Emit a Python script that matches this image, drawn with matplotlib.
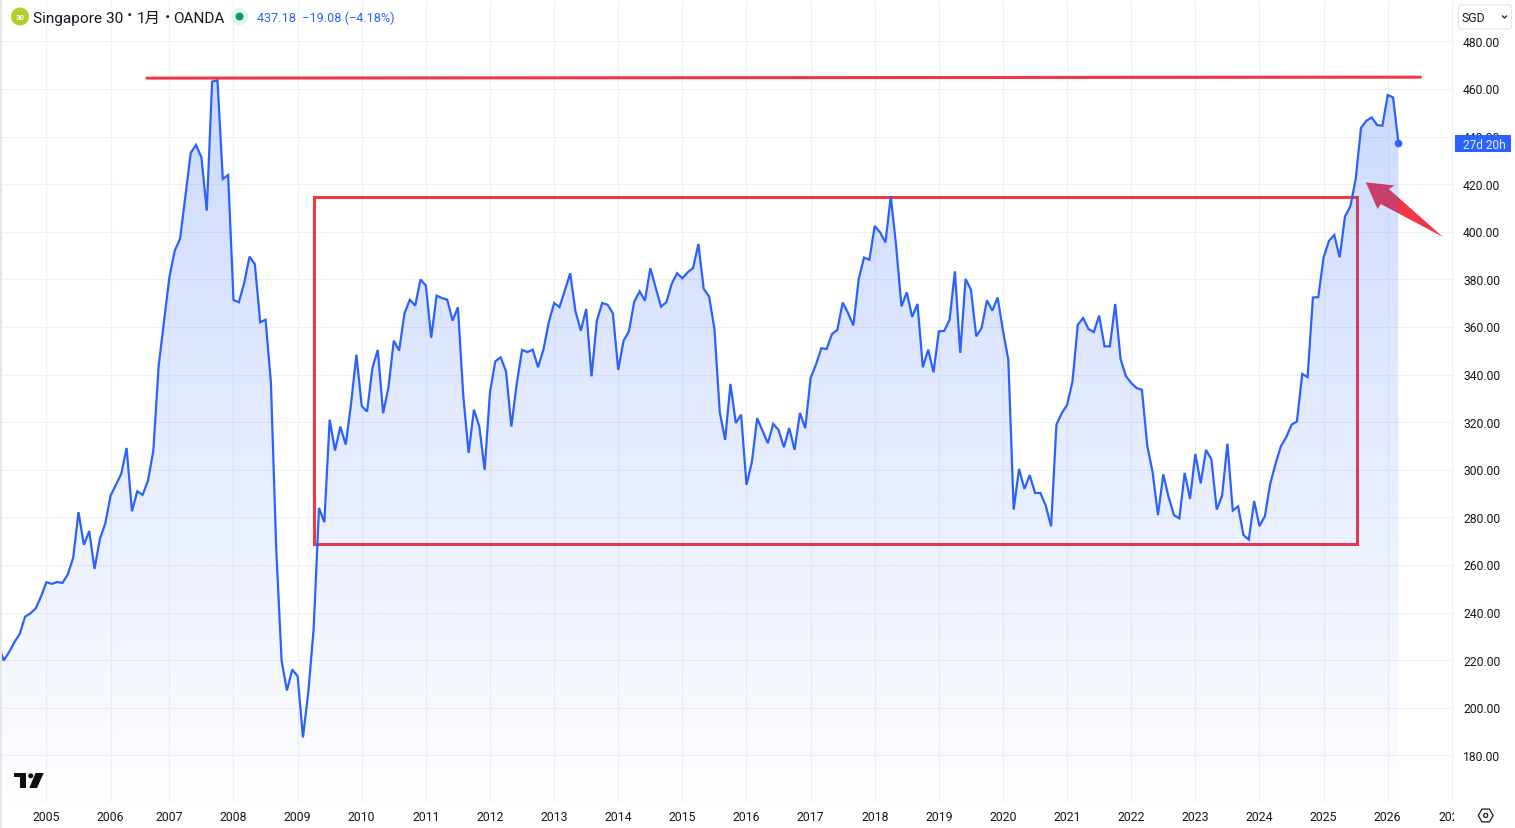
import numpy as np
import matplotlib
matplotlib.use("Agg")
import matplotlib.pyplot as plt
from matplotlib.patches import Circle, FancyBboxPatch, Polygon, Rectangle, RegularPolygon
from matplotlib.transforms import Bbox, IdentityTransform, ScaledTranslation, TransformedBbox

# Monthly closes, Apr 2004 onwards
closes_2004 = [226.6, 219.9, 223.4, 227.6, 231.1, 238.3, 239.7, 241.8, 246.9]
closes_2005 = [252.8, 252.1, 252.9, 252.5, 256.1, 263.1, 282.2, 268.5, 274.3, 258.4, 271.0, 277.4]
closes_2006 = [289.2, 293.7, 298.4, 309.2, 282.6, 291.0, 289.5, 295.5, 308.1, 343.8, 362.4]
closes_2007 = [380.9, 392.1, 397.0, 415.0, 433.2, 436.5, 431.3, 408.9, 463.1, 463.7, 422.2, 423.9]
closes_2008 = [371.4, 370.4, 378.5, 389.6, 386.4, 362.0, 363.1, 336.8, 266.8, 219.9, 207.3, 216.1]
closes_2009 = [213.3, 187.6, 206.6, 233.2, 284.0, 278.0, 321.1, 308.1, 318.2, 310.6, 327.7, 348.4]
closes_2010 = [326.8, 324.5, 342.8, 350.4, 323.8, 334.7, 354.3, 350.1, 365.8, 371.5, 369.0, 380.0]
closes_2011 = [377.4, 355.5, 373.2, 372.2, 371.5, 362.7, 368.3, 331.2, 307.1, 325.3, 318.2, 300.0]
closes_2012 = [332.6, 345.6, 347.3, 341.4, 318.2, 336.1, 350.4, 349.5, 350.5, 343.1, 350.5, 362.0]
closes_2013 = [370.1, 368.4, 375.3, 382.6, 366.6, 358.5, 367.6, 339.3, 362.7, 370.1, 369.4, 365.8]
closes_2014 = [342.0, 354.3, 358.2, 370.7, 375.0, 371.1, 384.7, 376.7, 368.6, 370.4, 378.1, 382.6]
closes_2015 = [380.5, 383.0, 384.8, 394.9, 376.0, 372.9, 359.2, 324.2, 312.6, 336.1, 319.7, 323.2]
closes_2016 = [293.7, 303.2, 321.7, 316.5, 311.2, 319.3, 316.8, 309.5, 317.6, 308.4, 323.9, 317.5]
closes_2017 = [338.6, 344.2, 351.1, 350.8, 357.1, 358.8, 370.3, 365.9, 360.7, 380.2, 389.2, 388.3]
closes_2018 = [402.5, 399.8, 395.6, 414.9, 394.2, 368.7, 374.6, 364.3, 369.7, 343.1, 350.5, 341.0]
closes_2019 = [358.2, 358.4, 363.0, 383.4, 349.1, 380.2, 375.7, 356.1, 359.6, 371.2, 366.9, 372.4]
closes_2020 = [358.5, 346.2, 283.3, 300.4, 292.0, 297.8, 290.3, 290.3, 285.0, 276.3, 319.0, 323.8]
closes_2021 = [327.3, 337.1, 361.0, 363.8, 359.2, 357.9, 364.8, 351.9, 351.9, 369.7, 346.6, 339.4]
closes_2022 = [336.5, 334.4, 333.6, 310.2, 299.0, 281.0, 298.1, 288.5, 281.0, 279.6, 298.7, 287.8]
closes_2023 = [306.7, 294.3, 308.4, 304.4, 283.3, 289.2, 311.0, 282.9, 284.7, 272.6, 270.7, 286.9]
closes_2024 = [276.4, 280.5, 294.1, 302.5, 309.9, 313.7, 319.0, 320.3, 340.3, 339.0, 372.4, 372.6]
closes_2025 = [389.3, 396.2, 398.7, 389.3, 406.5, 410.7, 422.2, 443.7, 446.7, 448.1, 444.9, 444.6]
closes_2026 = [457.5, 456.5, 437.4]

closes = (closes_2004 + closes_2005 + closes_2006 + closes_2007 + closes_2008 + closes_2009
          + closes_2010 + closes_2011 + closes_2012 + closes_2013 + closes_2014 + closes_2015
          + closes_2016 + closes_2017 + closes_2018 + closes_2019 + closes_2020 + closes_2021
          + closes_2022 + closes_2023 + closes_2024 + closes_2025 + closes_2026)

# Year labels and the bar each one sits on (2006 only has 11 bars)
year_labels = ["2005", "2006", "2007", "2008", "2009", "2010", "2011", "2012", "2013", "2014", "2015",
               "2016", "2017", "2018", "2019", "2020", "2021", "2022", "2023", "2024", "2025", "2026", "2027"]
year_bars = [9, 21, 32, 44, 56, 68, 80, 92, 104, 116, 128, 140, 152, 164, 176, 188, 200, 212, 224, 236,
             248, 260, 272]
price_ticks = [180, 200, 220, 240, 260, 280, 300, 320, 340, 360, 380, 400, 420, 440, 460, 480]

# Hand drawn red shapes, in bar / price
top_line_bars = [27.8, 266.1]
top_line_prices = [464.6, 465.0]
box_bars = [59.0, 254.2]
box_prices = [268.9, 414.5]
arrow_bars = [255.9, 261.3, 260.2, 270.3, 258.7, 258.1]
arrow_prices = [420.8, 419.5, 418.0, 397.9, 411.7, 409.6]

W, H = 1515, 829
BLUE = "#2962FF"
RED = "#F23645"
TEXT = "#131722"
GRID = "#F0F1F5"
FONTS = ["Roboto", "Noto Sans CJK SC", "DejaVu Sans"]
plt.rcParams["font.family"] = FONTS
X_RANGE = (0.68, 272.4)
Y_RANGE = (160.45, 497.0)

fig = plt.figure(figsize=(W / 100, H / 100), dpi=100, facecolor="white")

# Main pane, x is bar number
ax = fig.add_axes([2 / W, 1 - 803 / H, 1452 / W, 801 / H])
bars = np.arange(len(closes))
ax.set_xticks(year_bars, year_labels)
ax.set_yticks(price_ticks, [f"{p:.2f}" for p in price_ticks])
ax.yaxis.tick_right()
ax.tick_params(axis="x", length=0, pad=5.8, labelsize=8.8, labelcolor=TEXT)
ax.tick_params(axis="y", length=0, pad=6.5, labelsize=8.7, labelcolor=TEXT)
ax.grid(True, color=GRID, linewidth=0.75)
ax.set_axisbelow(True)
for side in ax.spines.values():
    side.set_visible(False)

# The 2027 label gets cut where the pane ends
pane_clip = TransformedBbox(Bbox([[0, 0], [1454, H]]), IdentityTransform())
for label in ax.get_xticklabels():
    label.set_clip_box(pane_clip)
    label.set_clip_on(True)

# Price labels sit about a pixel above their gridlines
nudge_up = ScaledTranslation(0, 0.7 / 100, fig.dpi_scale_trans)
for label in ax.get_yticklabels():
    label.set_transform(label.get_transform() + nudge_up)

# Red drawings go under the area fill
ax.plot(top_line_bars, top_line_prices, color=RED, linewidth=2.2, zorder=1, solid_capstyle="round")
ax.add_patch(Rectangle((box_bars[0], box_prices[0]), box_bars[1] - box_bars[0], box_prices[1] - box_prices[0],
                       fill=False, edgecolor=RED, linewidth=2.2, zorder=1))
ax.add_patch(Polygon(np.column_stack([arrow_bars, arrow_prices]), closed=True, facecolor=RED,
                     edgecolor="none", zorder=1, clip_on=False))

# Area fill as a vertical gradient clipped to the series
gradient = np.zeros((256, 1, 4))
gradient[:, 0, :3] = matplotlib.colors.to_rgb(BLUE)
gradient[:, 0, 3] = np.linspace(0.24, 0.005, 256)
y_floor = Y_RANGE[0]
image = ax.imshow(gradient, extent=[bars[0], bars[-1], y_floor, max(closes)], aspect="auto",
                  origin="upper", zorder=2, interpolation="bilinear")
outline = np.vstack([[bars[0], y_floor], np.column_stack([bars, closes]), [bars[-1], y_floor]])
area = Polygon(outline, closed=True, transform=ax.transData, facecolor="none", edgecolor="none")
ax.add_patch(area)
image.set_clip_path(area)
ax.set_xlim(*X_RANGE)
ax.set_ylim(*Y_RANGE)

ax.plot(bars, closes, color=BLUE, linewidth=1.6, zorder=3, solid_joinstyle="miter")
ax.plot(bars[-1], closes[-1], "o", color=BLUE, markersize=4.5, zorder=4, clip_on=False)

# Overlay in pixels for the chart furniture
ui = fig.add_axes([0, 0, 1, 1], zorder=5)
ui.set_xlim(0, W)
ui.set_ylim(H, 0)
ui.axis("off")
ui.patch.set_alpha(0)

# Window edge
ui.add_patch(Rectangle((0, 0), 2, H, facecolor="#E8E8E8", edgecolor="none"))
ui.add_patch(Rectangle((0, 0), W, 1, facecolor="#EDEDED", edgecolor="none"))

# Header
ui.add_patch(Circle((20, 17.5), 9, facecolor="#B5CC2E", edgecolor="none"))
ui.text(20, 17.7, "30", color="white", fontsize=5.6, fontweight="bold", ha="center", va="center")
ui.text(33, 18.5, "Singapore 30", color=TEXT, fontsize=11.1, va="center", ha="left")
ui.text(130, 15.5, "·", color=TEXT, fontsize=13, fontweight="bold", va="center", ha="center")
ui.text(137, 18.5, "1月", color=TEXT, fontsize=11.1, va="center", ha="left")
ui.text(167, 18, "·", color=TEXT, fontsize=13, fontweight="bold", va="center", ha="center")
ui.text(173, 18.5, "OANDA", color=TEXT, fontsize=11.0, va="center", ha="left")
ui.add_patch(Circle((239.5, 17.5), 8.5, facecolor="#E3F3F0", edgecolor="none"))
ui.add_patch(Circle((239.5, 17.5), 4, facecolor="#089981", edgecolor="none"))
ui.text(257, 18.6, "437.18  −19.08 (−4.18%)", color=BLUE, fontsize=9.1, va="center", ha="left")

# Currency button
ui.add_patch(FancyBboxPatch((1458.5, 6), 53, 24, boxstyle="round,pad=0,rounding_size=3",
                            facecolor="white", edgecolor="#E0E3EB", linewidth=0.8))
ui.text(1461.5, 18, "SGD", color=TEXT, fontsize=8.8, va="center", ha="left")
ui.plot([1502.5, 1504.5, 1506.5], [17, 19, 17], color=TEXT, linewidth=0.9)

# Countdown tag, covers most of the 440.00 label
ui.add_patch(Rectangle((1455, 136), 56, 17, facecolor=BLUE, edgecolor="none"))
ui.text(1484, 145, "27d 20h", color="#E8EEFF", fontsize=8.6, ha="center", va="center")

# TradingView logo
ui.add_patch(Polygon([(14, 774), (26, 774), (26, 789), (19.5, 789), (19.5, 778.3), (14, 778.3)], facecolor="#0F0F0F",
                     edgecolor="none"))
ui.add_patch(Circle((30.7, 776.8), 2.5, facecolor="#0F0F0F", edgecolor="none"))
ui.add_patch(Polygon([(35.5, 774), (43.7, 774), (37, 789), (29.3, 789)], facecolor="#0F0F0F", edgecolor="none"))

# Settings button
ui.add_patch(RegularPolygon((1485.7, 816.5), 6, radius=7.4, orientation=np.pi / 6, fill=False,
                            edgecolor=TEXT, linewidth=0.9))
ui.add_patch(Circle((1485.7, 816.5), 2, fill=False, edgecolor=TEXT, linewidth=0.9))

fig.savefig("out.png", dpi=100)
